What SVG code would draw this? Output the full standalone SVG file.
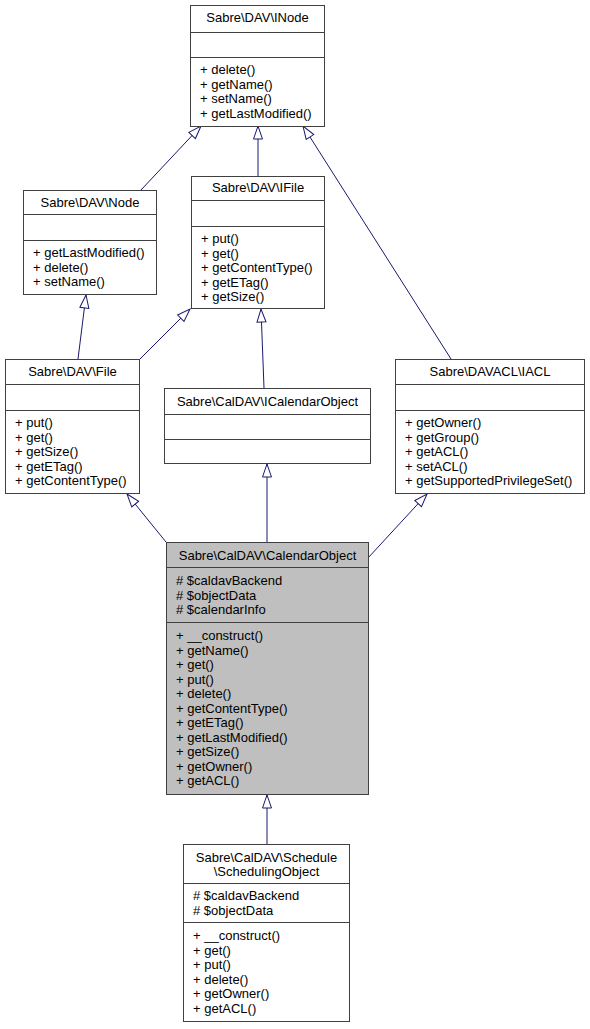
<svg xmlns="http://www.w3.org/2000/svg" width="590" height="1029" viewBox="0 0 590 1029">
<style>
.b{fill:#ffffff;stroke:#404040;stroke-width:1}
.h{fill:#bfbfbf;stroke:#404040;stroke-width:1}
.d{stroke:#404040;stroke-width:1}
text{font-family:"Liberation Sans",Arial,Helvetica,sans-serif;font-size:13px;fill:#000}
.t{text-anchor:middle}
.e{fill:none;stroke:#191970;stroke-width:1;marker-end:url(#a)}
</style>
<defs>
<marker id="a" markerUnits="userSpaceOnUse" markerWidth="15" markerHeight="11" refX="13.5" refY="5" orient="auto" overflow="visible">
<path d="M0.5,0.5 L13.5,5 L0.5,9.5 Z" fill="#ffffff" stroke="#191970" stroke-width="1"/>
</marker>
</defs>
<g id="edges">
<path class="e" d="M141,190 L201,126"/>
<path class="e" d="M258,176 L258,126"/>
<path class="e" d="M451,359 L303,126"/>
<path class="e" d="M78,359 L86,295"/>
<path class="e" d="M140,359 L190,309"/>
<path class="e" d="M264,388 L261,309"/>
<path class="e" d="M166,542 L127,494"/>
<path class="e" d="M267,542 L267,464"/>
<path class="e" d="M368,558 L427,494"/>
<path class="e" d="M267,844 L267,795"/>
</g>
<g id="INode">
<rect class="b" x="190.5" y="5.5" width="134" height="121"/>
<line class="d" x1="190.5" y1="32.5" x2="324.5" y2="32.5"/>
<line class="d" x1="190.5" y1="57.5" x2="324.5" y2="57.5"/>
<text class="t" x="257.5" y="22">Sabre\DAV\INode</text>
<text x="200" y="74">+ delete()</text>
<text x="200" y="88.5">+ getName()</text>
<text x="200" y="103">+ setName()</text>
<text x="200" y="117.5">+ getLastModified()</text>
</g>
<g id="Node">
<rect class="b" x="23.5" y="190.5" width="133" height="104"/>
<line class="d" x1="23.5" y1="214.5" x2="156.5" y2="214.5"/>
<line class="d" x1="23.5" y1="240.5" x2="156.5" y2="240.5"/>
<text class="t" x="90" y="207">Sabre\DAV\Node</text>
<text x="33" y="257">+ getLastModified()</text>
<text x="33" y="271.5">+ delete()</text>
<text x="33" y="286">+ setName()</text>
</g>
<g id="IFile">
<rect class="b" x="191.5" y="176.5" width="133" height="132"/>
<line class="d" x1="191.5" y1="200.5" x2="324.5" y2="200.5"/>
<line class="d" x1="191.5" y1="226.5" x2="324.5" y2="226.5"/>
<text class="t" x="258" y="192">Sabre\DAV\IFile</text>
<text x="201" y="243">+ put()</text>
<text x="201" y="257.5">+ get()</text>
<text x="201" y="272">+ getContentType()</text>
<text x="201" y="286.5">+ getETag()</text>
<text x="201" y="301">+ getSize()</text>
</g>
<g id="File">
<rect class="b" x="5.5" y="359.5" width="134" height="134"/>
<line class="d" x1="5.5" y1="384.5" x2="139.5" y2="384.5"/>
<line class="d" x1="5.5" y1="410.5" x2="139.5" y2="410.5"/>
<text class="t" x="72.5" y="376">Sabre\DAV\File</text>
<text x="15" y="427">+ put()</text>
<text x="15" y="441.5">+ get()</text>
<text x="15" y="456">+ getSize()</text>
<text x="15" y="470.5">+ getETag()</text>
<text x="15" y="485">+ getContentType()</text>
</g>
<g id="ICalendarObject">
<rect class="b" x="164.5" y="388.5" width="206" height="75"/>
<line class="d" x1="164.5" y1="414.5" x2="370.5" y2="414.5"/>
<line class="d" x1="164.5" y1="439.5" x2="370.5" y2="439.5"/>
<text class="t" x="267.5" y="406">Sabre\CalDAV\ICalendarObject</text>
</g>
<g id="IACL">
<rect class="b" x="395.5" y="359.5" width="189" height="134"/>
<line class="d" x1="395.5" y1="384.5" x2="584.5" y2="384.5"/>
<line class="d" x1="395.5" y1="410.5" x2="584.5" y2="410.5"/>
<text class="t" x="490" y="376">Sabre\DAVACL\IACL</text>
<text x="405" y="427">+ getOwner()</text>
<text x="405" y="441.5">+ getGroup()</text>
<text x="405" y="456">+ getACL()</text>
<text x="405" y="470.5">+ setACL()</text>
<text x="405" y="485">+ getSupportedPrivilegeSet()</text>
</g>
<g id="CalendarObject">
<rect class="h" x="166.5" y="542.5" width="202" height="252"/>
<line class="d" x1="166.5" y1="567.5" x2="368.5" y2="567.5"/>
<line class="d" x1="166.5" y1="622.5" x2="368.5" y2="622.5"/>
<text class="t" x="267.5" y="560">Sabre\CalDAV\CalendarObject</text>
<text x="176" y="585"># $caldavBackend</text>
<text x="176" y="599.5"># $objectData</text>
<text x="176" y="614"># $calendarInfo</text>
<text x="176" y="640">+ __construct()</text>
<text x="176" y="654.5">+ getName()</text>
<text x="176" y="669">+ get()</text>
<text x="176" y="683.5">+ put()</text>
<text x="176" y="698">+ delete()</text>
<text x="176" y="712.5">+ getContentType()</text>
<text x="176" y="727">+ getETag()</text>
<text x="176" y="741.5">+ getLastModified()</text>
<text x="176" y="756">+ getSize()</text>
<text x="176" y="770.5">+ getOwner()</text>
<text x="176" y="785">+ getACL()</text>
</g>
<g id="SchedulingObject">
<rect class="b" x="183.5" y="844.5" width="166" height="177"/>
<line class="d" x1="183.5" y1="883.5" x2="349.5" y2="883.5"/>
<line class="d" x1="183.5" y1="922.5" x2="349.5" y2="922.5"/>
<text class="t" x="266.5" y="862">Sabre\CalDAV\Schedule</text>
<text class="t" x="266.5" y="876">\SchedulingObject</text>
<text x="193" y="900"># $caldavBackend</text>
<text x="193" y="914.5"># $objectData</text>
<text x="193" y="940">+ __construct()</text>
<text x="193" y="954.5">+ get()</text>
<text x="193" y="969">+ put()</text>
<text x="193" y="983.5">+ delete()</text>
<text x="193" y="998">+ getOwner()</text>
<text x="193" y="1012.5">+ getACL()</text>
</g>
</svg>
